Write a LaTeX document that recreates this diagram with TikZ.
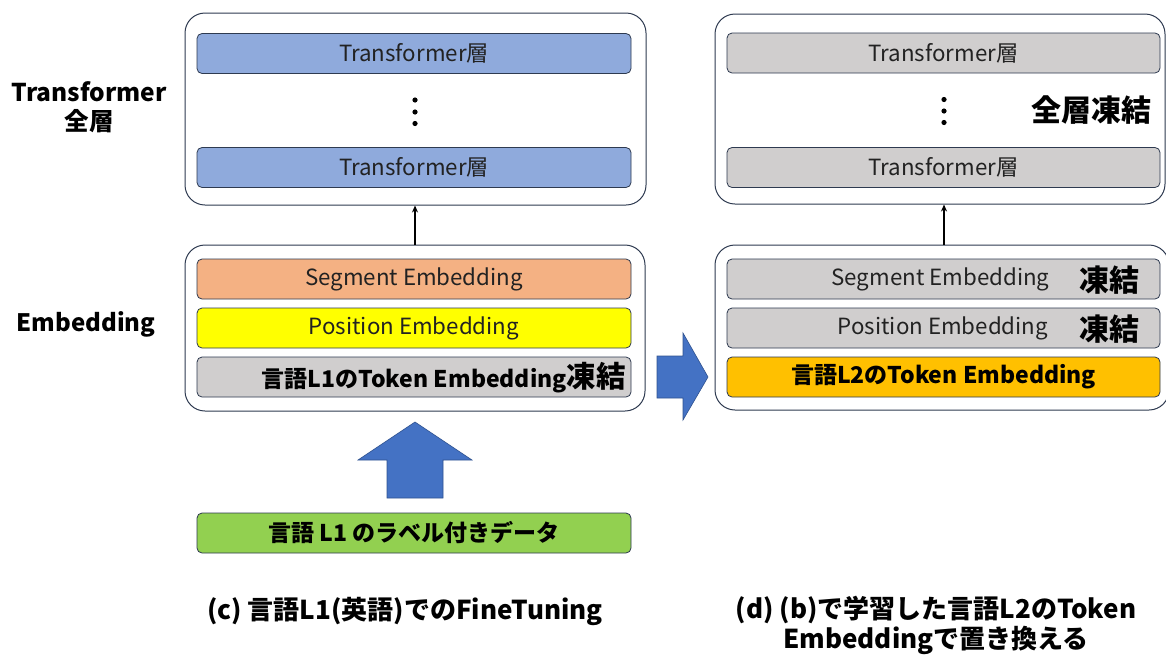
\documentclass[tikz,border=0pt]{standalone}
\usepackage{fontspec}
\setmainfont{Noto Sans CJK JP}
\usetikzlibrary{arrows.meta}

\definecolor{edge}{HTML}{2E3A50}
\definecolor{layerblue}{HTML}{8FAADC}
\definecolor{segorange}{HTML}{F4B183}
\definecolor{posyellow}{HTML}{FFFF00}
\definecolor{frozen}{HTML}{D0CECE}
\definecolor{tokgold}{HTML}{FFC000}
\definecolor{datagreen}{HTML}{92D050}
\definecolor{arrowblue}{HTML}{4472C4}
\definecolor{arrowedge}{HTML}{2F528F}
\definecolor{ink}{HTML}{222222}

\tikzset{
  panel/.style={draw=edge, line width=1pt, rounded corners=20pt, fill=white},
  bartext/.style={text=ink, font=\fontsize{22.3}{22.3}\selectfont},
  bar/.style={draw=edge, line width=0.8pt, rounded corners=5pt, inner sep=0pt, bartext},
  lbar/.style={bar, minimum width=434pt, minimum height=40pt},
  rbar/.style={bar, minimum width=433pt, minimum height=40pt},
  boldtxt/.style={font=\fontsize{23}{23}\selectfont\bfseries, text=black},
  bigtxt/.style={font=\fontsize{30}{30}\selectfont\bfseries, text=black},
  rowlabel/.style={font=\fontsize{24.5}{29}\selectfont\bfseries, text=black, align=center},
  caption/.style={font=\fontsize{26}{30}\selectfont\bfseries, text=black, align=center},
  blockarrow/.style={fill=arrowblue, draw=arrowedge, line width=0.6pt},
  dot/.style={fill=black, draw=none},
}

\begin{document}
\begin{tikzpicture}[x=1pt, y=-1pt]
\useasboundingbox (0,0) rectangle (1166,654);

% ---- left column: fine-tuning on language L1 ----
\node[panel, minimum width=461pt, minimum height=192pt] (top1) at (415.5,109) {};
\node[lbar, fill=layerblue] (t1a) at (414,53.5) {Transformer層};
\node[lbar, fill=layerblue] (t1b) at (414,167.5) {Transformer層};
\coordinate (dots1) at (415,112);
\fill[dot] (415,100) circle (2.6) (415,112) circle (2.6) (415,123.5) circle (2.6);

\node[panel, minimum width=460pt, minimum height=166pt] (emb1) at (415,328) {};
\node[lbar, fill=segorange] (seg1) at (414,279) {Segment Embedding};
\node[lbar, fill=posyellow] (pos1) at (414,328) {Position Embedding};
\node[lbar, fill=frozen] (tok1) at (414,377) {};
\node[anchor=base east, inner sep=0pt] at (626,387.5)
  {\fontsize{23}{23}\selectfont\bfseries 言語L1のToken Embedding\fontsize{29.5}{29.5}\selectfont 凍結};

\draw[line width=1.3pt, -{Stealth[length=7pt,width=6pt]}] (dots1 |- emb1.north) -- (dots1 |- top1.south);

\node[lbar, fill=datagreen, boldtxt] (data) at (414,533) {言語 L1 のラベル付きデータ};
\draw[blockarrow] (387,498) -- (387,460) -- (358,460) -- (415,422) -- (472,460)
  -- (443,460) -- (443,498) -- cycle;

% row labels
\node[rowlabel] (lbltf) at (89,107) {Transformer\\全層};
\node[rowlabel, font=\fontsize{24}{24}\selectfont\bfseries] (lblemb) at (86,324) {Embedding};

% ---- right column: swapped-in token embedding of language L2 ----
\node[panel, minimum width=450pt, minimum height=190pt] (top2) at (940,109) {};
\node[rbar, fill=frozen] (t2a) at (943.5,53) {Transformer層};
\node[rbar, fill=frozen] (t2b) at (943.5,167.5) {Transformer層};
\coordinate (dots2) at (944,111);
\fill[dot] (944,99.5) circle (2.6) (944,111) circle (2.6) (944,122.5) circle (2.6);
\node[bigtxt] (freezeall) at (1091,110) {全層凍結};

\node[panel, minimum width=454pt, minimum height=165pt] (emb2) at (942,327.5) {};
\node[rbar, fill=frozen] (seg2) at (943.5,279) {};
\node[bartext] at (940.5,279) {Segment Embedding};
\node[bigtxt] at (1109,280) {凍結};
\node[rbar, fill=frozen] (pos2) at (943.5,328) {};
\node[bartext] at (943,328) {Position Embedding};
\node[bigtxt] at (1109,329) {凍結};
\node[rbar, fill=tokgold, boldtxt] (tok2) at (943.5,377) {言語L2のToken Embedding};

\draw[line width=1.3pt, -{Stealth[length=7pt,width=6pt]}] (dots2 |- emb2.north) -- (dots2 |- top2.south);

\draw[blockarrow] (657,356) -- (683,356) -- (683,333) -- (708,377) -- (683,420)
  -- (683,398) -- (657,398) -- cycle;

% ---- captions ----
\node[caption] (capc) at (405,611) {(c) 言語L1(英語)でのFineTuning};
\node[caption] (capd) at (936,625) {(d) (b)で学習した言語L2のToken\\Embeddingで置き換える};
\end{tikzpicture}
\end{document}
